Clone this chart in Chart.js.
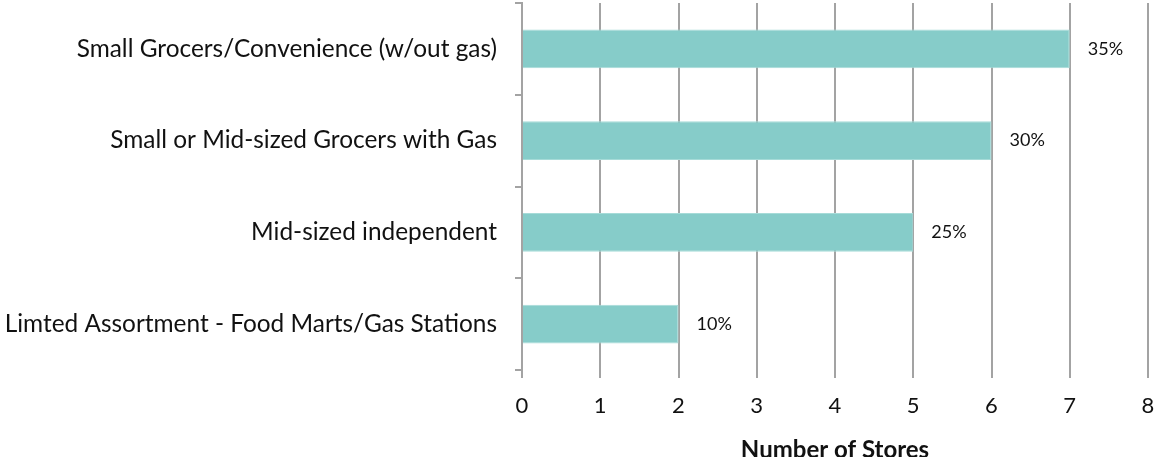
<!DOCTYPE html>
<html>
<head>
<meta charset="utf-8">
<script src="https://cdn.jsdelivr.net/npm/chart.js"></script>
<style>
  html, body { margin: 0; padding: 0; background: #fff; }
  #wrap { width: 1155px; height: 457px; position: relative; }
</style>
</head>
<body>
<div id="wrap"><canvas id="storesChart"></canvas></div>
<script>
const categories = [
  'Small Grocers/Convenience (w/out gas)',
  'Small or Mid-sized Grocers with Gas',
  'Mid-sized independent',
  'Limted Assortment - Food Marts/Gas Stations'
];
const storeCounts = [7, 6, 5, 2];
const shareLabels = ['35%', '30%', '25%', '10%'];
const xTicks = [0, 1, 2, 3, 4, 5, 6, 7, 8];

const FONT = 'Lato, "Open Sans", sans-serif';
const GRID = '#a3a3a3';
const TEXT = '#111';

// percentage labels to the right of each bar
const shareLabelPlugin = {
  id: 'shareLabels',
  afterDatasetsDraw(chart) {
    const { ctx } = chart;
    const meta = chart.getDatasetMeta(0);
    ctx.save();
    ctx.font = '18px ' + FONT;
    ctx.fillStyle = TEXT;
    ctx.textAlign = 'left';
    ctx.textBaseline = 'middle';
    meta.data.forEach((bar, i) => {
      ctx.fillText(shareLabels[i], bar.x + 18, bar.y);
    });
    ctx.restore();
  }
};

new Chart(document.getElementById('storesChart'), {
  type: 'bar',
  data: {
    labels: categories,
    datasets: [{
      data: storeCounts,
      backgroundColor: '#86ccc9',
      borderColor: '#a6dbd8',
      borderWidth: 1,
      barPercentage: 0.42,
      categoryPercentage: 1
    }]
  },
  options: {
    indexAxis: 'y',
    responsive: true,
    maintainAspectRatio: false,
    animation: false,
    layout: { padding: { top: 3, right: 7, left: 0, bottom: 0 } },
    plugins: { legend: { display: false }, tooltip: { enabled: false } },
    scales: {
      x: {
        min: 0,
        max: 8,
        afterBuildTicks: (scale) => { scale.ticks = xTicks.map(v => ({ value: v })); },
        grid: { color: GRID, lineWidth: 2, tickLength: 8, drawTicks: true },
        border: { display: false },
        ticks: { color: TEXT, font: { family: FONT, size: 22 }, padding: 15 },
        title: {
          display: true,
          text: 'Number of Stores',
          color: TEXT,
          font: { family: FONT, size: 24, weight: 'bold', lineHeight: 0.6 },
          padding: 0
        },
        afterFit: (scale) => { scale.height = 87; scale.paddingLeft = 0; scale.paddingRight = 0; }
      },
      y: {
        grid: { offset: true, drawOnChartArea: false, color: GRID, lineWidth: 2, tickLength: 7 },
        border: { display: true, color: GRID, width: 2 },
        ticks: { color: TEXT, font: { family: FONT, size: 24.4 }, padding: 18, autoSkip: false },
        afterFit: (scale) => { scale.width = 522; scale.paddingTop = 0; scale.paddingBottom = 0; }
      }
    }
  },
  plugins: [shareLabelPlugin]
});
</script>
</body>
</html>
